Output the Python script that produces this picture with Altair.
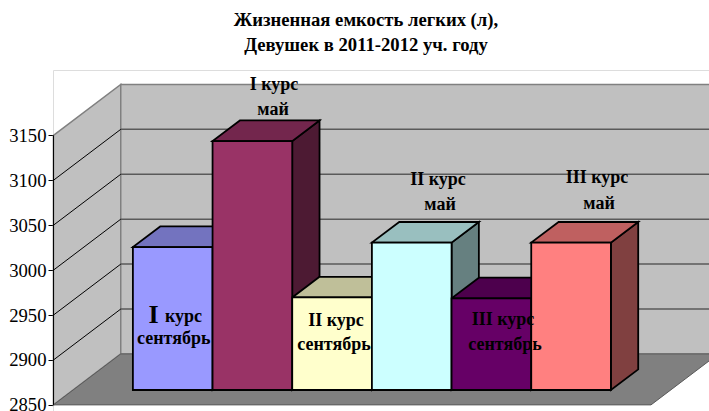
import altair as alt
import pandas as pd

# Measured values, one bar per course and month
CATEGORIES = ["I курс сентябрь", "I курс май", "II курс сентябрь",
              "II курс май", "III курс сентябрь", "III курс май"]
VALUES = [3009, 3127, 2953, 3014, 2952, 3014]
FRONT_COLORS = ["#9999FF", "#993366", "#FFFFCC", "#CCFFFF", "#660066", "#FF8080"]
TOP_COLORS = ["#7373BF", "#73264D", "#BFBF99", "#99BFBF", "#4D004D", "#BF6060"]
SIDE_COLORS = ["#4D4D80", "#4D1A33", "#808066", "#668080", "#330033", "#804040"]
AXIS_TICKS = [2850, 2900, 2950, 3000, 3050, 3100, 3150]

# Oblique projection: depth 0 is the front of the bars, 1 their back
DX, DY = 0.3427, 23.0
FRONT_D, BACK_D = -0.72, 1.744
U0, U1 = -0.75, 6.75
BASE = 2850


def px(u, d):
    return u + DX * (d - FRONT_D)


def py(v, d):
    return v + DY * (d - FRONT_D)


X = alt.Scale(domain=[-0.756, -0.756 + 656 / 79.67], nice=False, zero=False)
Y = alt.Scale(domain=[2843.2, 3222.7], nice=False, zero=False)
x_enc = alt.X("x:Q", scale=X, axis=None)
y_enc = alt.Y(
    "y:Q", scale=Y,
    axis=alt.Axis(values=AXIS_TICKS, grid=False, domain=False, title=None, format="d",
                  tickColor="#000000", tickSize=5, tickWidth=1, labelColor="#000000",
                  labelFont="Liberation Serif", labelFontSize=18.67, labelPadding=2),
)

# Left wall, back wall and floor
left_wall = alt.Chart(pd.DataFrame([
    {"x": px(U0, FRONT_D), "y": py(3150, FRONT_D), "y0": py(BASE, FRONT_D)},
    {"x": px(U0, BACK_D), "y": py(3150, BACK_D), "y0": py(BASE, BACK_D)},
])).mark_area(orient="vertical", color="#C0C0C0", stroke="#808080", strokeWidth=1.5).encode(
    x=x_enc, y=y_enc, y2="y0:Q")

back_wall = alt.Chart(pd.DataFrame([
    {"x": px(U0, BACK_D), "x0": px(U1, BACK_D), "y": py(3150, BACK_D), "y0": py(BASE, BACK_D)},
])).mark_rect(color="#C0C0C0", stroke="#808080", strokeWidth=1.5).encode(
    x=x_enc, x2="x0:Q", y=y_enc, y2="y0:Q")

floor = alt.Chart(pd.DataFrame([
    {"y": py(BASE, FRONT_D), "x": px(U0, FRONT_D), "x0": px(U1, FRONT_D)},
    {"y": py(BASE, BACK_D), "x": px(U0, BACK_D), "x0": px(U1, BACK_D)},
])).mark_area(orient="horizontal", color="#808080", stroke="#5A5A5A", strokeWidth=1).encode(
    y=y_enc, x=x_enc, x2="x0:Q")

# Gridlines follow the walls: along the back, then diagonally to the axis
inner_ticks = AXIS_TICKS[1:-1]
back_grid = alt.Chart(pd.DataFrame([
    {"x": px(U0, BACK_D), "x0": px(U1, BACK_D), "y": py(t, BACK_D)} for t in inner_ticks
])).mark_rule(color="#5A5A5A", strokeWidth=1.5).encode(x=x_enc, x2="x0:Q", y=y_enc)

side_rows = []
for t in inner_ticks:
    side_rows.append({"tick": t, "x": px(U0, FRONT_D), "y": py(t, FRONT_D)})
    side_rows.append({"tick": t, "x": px(U0, BACK_D), "y": py(t, BACK_D)})
side_grid = alt.Chart(pd.DataFrame(side_rows)).mark_line(color="#000000", strokeWidth=1).encode(
    x=x_enc, y=y_enc, detail="tick:N")

axis_line = alt.Chart(pd.DataFrame([
    {"x": px(U0, FRONT_D), "y": py(BASE, FRONT_D), "y0": py(3150, FRONT_D)},
])).mark_rule(color="#000000", strokeWidth=1).encode(x=x_enc, y=y_enc, y2="y0:Q")

# Bar faces
fronts, tops, sides = [], [], []
for i, v in enumerate(VALUES):
    fronts.append({"name": CATEGORIES[i], "x": px(i, 0), "x0": px(i + 1, 0),
                   "y": py(v, 0), "y0": py(BASE, 0), "c": FRONT_COLORS[i]})
    tops.append({"name": CATEGORIES[i], "y": py(v, 0), "x": px(i, 0), "x0": px(i + 1, 0),
                 "c": TOP_COLORS[i]})
    tops.append({"name": CATEGORIES[i], "y": py(v, 1), "x": px(i, 1), "x0": px(i + 1, 1),
                 "c": TOP_COLORS[i]})
    sides.append({"name": CATEGORIES[i], "x": px(i + 1, 0), "y": py(v, 0),
                  "y0": py(BASE, 0), "c": SIDE_COLORS[i]})
    sides.append({"name": CATEGORIES[i], "x": px(i + 1, 1), "y": py(v, 1),
                  "y0": py(BASE, 1), "c": SIDE_COLORS[i]})

edge = dict(stroke="#000000", strokeWidth=1.8)
side_faces = alt.Chart(pd.DataFrame(sides)).mark_area(orient="vertical", **edge).encode(
    x=x_enc, y=y_enc, y2="y0:Q", fill=alt.Fill("c:N", scale=None), detail="name:N")
top_faces = alt.Chart(pd.DataFrame(tops)).mark_area(orient="horizontal", **edge).encode(
    y=y_enc, x=x_enc, x2="x0:Q", fill=alt.Fill("c:N", scale=None), detail="name:N")
front_faces = alt.Chart(pd.DataFrame(fronts)).mark_rect(**edge).encode(
    x=x_enc, x2="x0:Q", y=y_enc, y2="y0:Q", fill=alt.Fill("c:N", scale=None))

# Hand-placed captions: text, centre x, centre y on the page, font size
PAD_LEFT, PAD_TOP = 53, 70
CAPTIONS = [
    ("I", 153.5, 315, 26), ("курс", 183.5, 317, 18), ("сентябрь", 173.7, 339, 18),
    ("I курс", 274, 85, 18), ("май", 273, 110, 18),
    ("II курс", 336, 321, 18), ("сентябрь", 334, 345, 18),
    ("II курс", 438, 180, 18), ("май", 440, 205, 18),
    ("III курс", 503, 320, 18), ("сентябрь", 505, 345, 18),
    ("III курс", 597, 178, 18), ("май", 599, 204, 18),
]
captions = [
    alt.Chart(pd.DataFrame({"t": [t]})).mark_text(
        font="Liberation Serif", fontWeight="bold", fontSize=s, color="#000000",
        align="center", baseline="middle",
    ).encode(x=alt.value(cx - PAD_LEFT), y=alt.value(cy - PAD_TOP), text="t:N")
    for t, cx, cy, s in CAPTIONS
]

chart = alt.layer(
    left_wall, back_wall, back_grid, side_grid, floor, axis_line,
    side_faces, top_faces, front_faces, *captions,
).properties(
    width=656, height=341,
    padding={"left": PAD_LEFT, "top": PAD_TOP, "right": 0, "bottom": 0},
    autosize=alt.AutoSizeParams(type="none"),
    title=alt.TitleParams(
        text=["Жизненная емкость легких (л),", "Девушек в 2011-2012 уч. году"],
        font="Liberation Serif", fontSize=18.67, fontWeight="bold", color="#000000",
        anchor="middle", lineHeight=25, offset=15, dx=-15,
    ),
).configure_view(stroke=None).configure_axis(
    labelFont="Liberation Serif", labelFontSize=18.67,
).configure(background="#FFFFFF", font="Liberation Serif")

chart.save("out.html", embed_options={"renderer": "svg", "actions": False})
